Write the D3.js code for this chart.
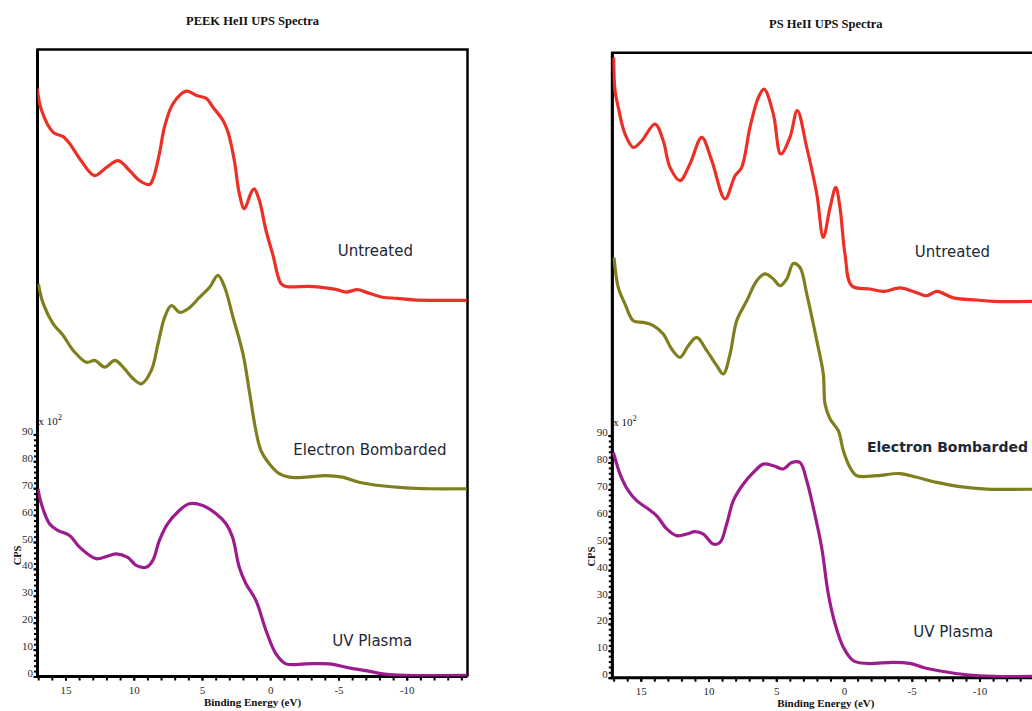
<!DOCTYPE html>
<html>
<head>
<meta charset="utf-8">
<script src="https://cdn.jsdelivr.net/npm/d3@7"></script>
<style>
  body { margin: 0; background: #fff; }
  svg { display: block; }
  .serif { font-family: "Liberation Serif", "Times New Roman", serif; fill: #111; }
  .bold { font-weight: bold; }
  .series-label { font-family: "DejaVu Sans", Verdana, sans-serif; font-size: 15px; fill: #1e2836; }
  .axis text { font-family: "Liberation Serif", "Times New Roman", serif; font-size: 11px; fill: #2b2b2b; }
  .axis line { stroke: #000; stroke-width: 2; }
</style>
</head>
<body>
<svg id="chart" width="1032" height="711"></svg>
<script>
// tick labels
const xTicks = [15, 10, 5, 0, -5, -10]
const xMinorTicks = d3.range(-14, 18, 1)
const yTicks = [0, 10, 20, 30, 40, 50, 60, 70, 80, 90]
const yMinorTicks = d3.range(0, 92, 2)

const seriesNames = ['Untreated', 'Electron Bombarded', 'UV Plasma']
const seriesColors = ['#ec3026', '#7f7f1f', '#9c1b8d']

// [binding energy (eV), CPS x 10^2] -- upper traces are stacked with an offset
const peekUntreated = [[17.07,218.6],[16.75,210.4],[15.9,202.3],[15.17,200.7],[14.7,198.1],[13.97,192.6],[12.87,186.2],[11.99,189.3],[11.14,191.8],[10.31,188.1],[9.58,184.4],[8.85,182.9],[8.58,185.1],[8.12,194.4],[7.75,204.2],[7.12,213.0],[6.14,217.6],[5.41,216.0],[4.68,214.9],[4.19,211.6],[3.46,206.7],[3.09,202.3],[2.63,191.8],[2.27,179.6],[1.9,173.9],[1.39,180.0],[1.17,181.3],[0.8,177.0],[0.31,165.8],[-0.17,157.2],[-0.78,146.1],[-1.15,145.0],[-2.85,145.0],[-4.07,144.5],[-4.81,143.9],[-5.54,142.9],[-6.39,143.8],[-7.0,142.9],[-8.22,141.0],[-9.29,140.6],[-10.51,140.0],[-14.4,139.8]]
const peekElectron = [[16.99,146.0],[16.63,138.6],[15.9,131.1],[15.17,126.8],[14.43,121.2],[13.46,116.8],[12.85,117.5],[12.12,115.0],[11.39,117.5],[10.78,115.0],[10.04,110.7],[9.44,108.8],[8.71,113.8],[8.22,123.7],[7.73,133.6],[7.24,137.9],[6.63,135.4],[6.02,136.7],[5.17,141.0],[4.44,144.7],[3.83,149.1],[3.34,144.7],[2.73,133.6],[2.0,120.0],[1.54,106.3],[1.05,91.4],[0.68,84.0],[0.07,79.1],[-0.66,75.4],[-1.39,74.1],[-2.61,74.1],[-4.07,74.7],[-5.29,74.1],[-6.51,72.2],[-7.97,71.0],[-9.93,70.1],[-11.63,69.8],[-14.4,69.8]]
const peekUv = [[17.02,69.8],[16.77,64.2],[16.17,56.8],[15.56,54.3],[14.7,52.4],[13.97,48.1],[12.75,43.8],[11.78,45.0],[11.29,45.6],[10.44,44.3],[9.82,41.3],[9.09,40.6],[8.61,43.1],[8.12,50.6],[7.51,56.8],[6.66,61.7],[5.93,64.2],[4.95,63.6],[3.97,60.5],[3.24,56.8],[2.76,51.8],[2.27,40.6],[1.78,34.5],[1.05,28.3],[0.31,17.1],[-0.42,8.4],[-1.15,4.7],[-2.61,4.7],[-4.32,4.7],[-5.78,3.2],[-7.0,2.2],[-8.22,1.0],[-9.93,0.4],[-14.4,0.4]]

const psUntreated = [[17.0,230.6],[16.9,218.2],[16.66,212.0],[16.16,202.1],[15.55,197.1],[14.93,199.6],[13.95,205.8],[13.34,199.6],[12.84,189.7],[12.1,184.8],[11.37,191.0],[10.5,200.9],[9.76,192.2],[8.78,178.0],[8.04,186.6],[7.55,189.7],[6.94,204.6],[6.32,215.7],[5.9,218.8],[5.22,209.6],[4.67,194.7],[3.99,200.9],[3.45,210.8],[2.75,197.1],[2.01,179.8],[1.53,163.7],[1.03,174.8],[0.61,182.3],[0.3,174.8],[-0.07,157.5],[-0.57,145.7],[-1.92,144.5],[-2.9,143.6],[-4.13,144.9],[-5.11,143.6],[-6.1,142.0],[-6.84,143.6],[-8.07,141.2],[-9.79,140.4],[-11.02,139.9],[-14.4,139.9]]
const psElectron = [[16.97,156.2],[16.66,145.1],[16.16,138.9],[15.55,132.7],[14.81,132.1],[14.07,130.9],[13.34,127.8],[12.72,122.2],[12.1,119.1],[11.49,123.4],[10.87,126.5],[10.13,121.6],[9.39,116.0],[8.91,112.9],[8.41,120.3],[7.92,132.7],[7.18,140.1],[6.44,147.6],[5.83,150.1],[5.22,148.2],[4.72,145.7],[4.23,148.2],[3.74,154.0],[3.25,152.5],[2.75,142.6],[2.01,125.3],[1.53,112.9],[1.4,101.7],[1.03,96.2],[0.42,91.8],[0.05,84.4],[-0.44,78.2],[-0.94,75.1],[-2.41,75.1],[-4.13,75.9],[-5.37,74.5],[-6.84,72.6],[-8.56,71.0],[-10.53,70.1],[-14.4,70.1]]
const psUv = [[17.03,83.8],[16.77,79.4],[16.53,75.7],[15.92,69.5],[15.3,65.8],[14.44,62.7],[13.82,60.2],[13.08,55.3],[12.35,52.8],[11.61,53.4],[11.0,54.3],[10.38,53.4],[9.65,49.7],[9.15,50.3],[8.66,57.1],[8.17,65.8],[7.43,72.0],[6.69,76.3],[5.96,79.4],[5.22,78.8],[4.48,77.6],[3.86,80.0],[3.25,80.0],[2.75,73.2],[2.27,63.3],[1.65,48.4],[1.16,31.1],[0.66,20.0],[0.05,11.3],[-0.69,6.3],[-1.68,5.3],[-3.64,5.7],[-4.87,5.3],[-5.85,3.8],[-7.33,2.3],[-9.06,1.1],[-11.02,0.5],[-14.4,0.5]]

const panels = [
  { title: 'PEEK HeII UPS Spectra', left: 37.5, top: 49.5, width: 430, height: 627, xDomain: [17.05, -14.45],
    series: [peekUntreated, peekElectron, peekUv],
    labelPos: [[337.8, 206.5], [332.5, 405.5], [334.7, 596.5]], boldLabel: -1 },
  { title: 'PS HeII UPS Spectra', left: 612.3, top: 52.7, width: 427, height: 625, xDomain: [17.1, -14.41],
    series: [psUntreated, psElectron, psUv],
    labelPos: [[340.2, 204], [335.2, 399.5], [341, 584]], boldLabel: 1 }
]

const svg = d3.select('#chart')

panels.forEach((p, pi) => {
  const x = d3.scaleLinear().domain(p.xDomain).range([0, p.width])
  const y = d3.scaleLinear().domain([0, p.height / 2.69]).range([p.height, 0])
  const g = svg.append('g').attr('transform', `translate(${p.left},${p.top})`)
  const cx = p.left + p.width / 2

  svg.append('text').attr('class', 'serif bold')
    .attr('x', cx).attr('y', p.top - 24.5).attr('text-anchor', 'middle')
    .style('font-size', '12.5px').text(p.title)

  g.append('clipPath').attr('id', 'clip' + pi)
    .append('rect').attr('width', p.width).attr('height', p.height)

  // minor x ticks
  g.append('g').attr('class', 'axis')
    .attr('transform', `translate(0,${p.height})`)
    .call(d3.axisBottom(x).tickValues(xMinorTicks).tickSize(4).tickFormat(''))
    .call(s => s.select('.domain').remove())
  g.append('g').attr('class', 'axis')
    .attr('transform', `translate(0,${p.height})`)
    .call(d3.axisBottom(x).tickValues(xTicks).tickSize(4).tickPadding(6).tickFormat(d => String(d)))
    .call(s => s.select('.domain').remove())

  g.append('g').attr('class', 'axis')
    .call(d3.axisLeft(y).tickValues(yMinorTicks).tickSize(3.5).tickFormat(''))
    .call(s => s.select('.domain').remove())
  g.append('g').attr('class', 'axis')
    .call(d3.axisLeft(y).tickValues(yTicks).tickSize(4).tickPadding(0.5))
    .call(s => s.select('.domain').remove())
    .call(s => s.selectAll('text').attr('dy', '0'))

  // frame
  g.append('path')
    .attr('d', `M0,${p.height}V0H${p.width}V${p.height}`)
    .attr('fill', 'none').attr('stroke', '#000').attr('stroke-width', 2.5)
  g.append('path')
    .attr('d', `M0,0V${p.height}H${p.width}`)
    .attr('fill', 'none').attr('stroke', '#000').attr('stroke-width', 3)

  const line = d3.line()
    .x(d => x(d[0]))
    .y(d => y(d[1]))
    .curve(d3.curveCatmullRom.alpha(0.5))

  p.series.forEach((s, i) => {
    g.append('path').datum(s)
      .attr('clip-path', `url(#clip${pi})`)
      .attr('fill', 'none')
      .attr('stroke', seriesColors[i])
      .attr('stroke-width', 3.2)
      .attr('stroke-linejoin', 'round')
      .attr('d', line)
  })

  seriesNames.forEach((name, i) => {
    g.append('text').attr('class', 'series-label')
      .attr('x', p.labelPos[i][0]).attr('y', p.labelPos[i][1])
      .attr('text-anchor', 'middle')
      .style('font-weight', p.boldLabel === i ? 'bold' : 'normal')
      .style('font-size', p.boldLabel === i ? '14px' : '15px')
      .text(name)
  })

  // x 10^2 multiplier
  const mult = g.append('text').attr('class', 'serif')
    .attr('x', 1).attr('y', y(93.5)).style('font-size', '11px')
  mult.append('tspan').text('x 10')
  mult.append('tspan').attr('dy', -5).style('font-size', '8.5px').text('2')

  svg.append('text').attr('class', 'serif bold')
    .attr('x', cx).attr('y', p.top + p.height + 29.5).attr('text-anchor', 'middle')
    .style('font-size', '11px').text('Binding Energy (eV)')

  svg.append('text').attr('class', 'serif bold')
    .attr('transform', `translate(${p.left - 20.5},${p.top + y(45)}) rotate(-90)`)
    .attr('text-anchor', 'middle').attr('dy', '0.35em')
    .style('font-size', '10.5px').text('CPS')
})
</script>
</body>
</html>
